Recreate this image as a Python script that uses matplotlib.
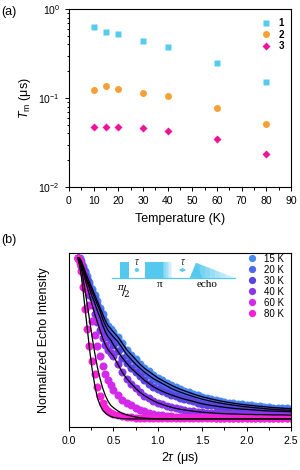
import matplotlib
matplotlib.use("Agg")
import matplotlib.pyplot as plt
from matplotlib.patches import Rectangle, Polygon
from matplotlib.ticker import MultipleLocator, LogLocator, NullFormatter

plt.rcParams["font.family"] = ["Liberation Sans", "DejaVu Sans"]
plt.rcParams["mathtext.fontset"] = "custom"
plt.rcParams["mathtext.rm"] = "Liberation Sans"
plt.rcParams["mathtext.it"] = "Liberation Sans:italic"

# ---- panel (a): phase memory time vs temperature ----
temps = [10, 15, 20, 30, 40, 60, 80]
tm_1 = [0.62, 0.555, 0.52, 0.44, 0.376, 0.244, 0.151]
tm_2 = [0.122, 0.138, 0.125, 0.114, 0.104, 0.078, 0.0505]
tm_3 = [0.047, 0.047, 0.047, 0.046, 0.043, 0.0345, 0.0236]
compounds = ["1", "2", "3"]

# ---- panel (b): echo decays ----
tau = [0.10, 0.12, 0.14, 0.16, 0.18, 0.20, 0.23, 0.26, 0.29, 0.32, 0.35, 0.38, 0.41, 0.44, 0.47,
       0.50, 0.55, 0.60, 0.65, 0.70, 0.75, 0.80, 0.85, 0.90, 0.95,
       1.00, 1.05, 1.10, 1.15, 1.20, 1.25, 1.30, 1.35, 1.40, 1.45,
       1.50, 1.55, 1.60, 1.65, 1.70, 1.75, 1.80, 1.85, 1.90, 1.95,
       2.00, 2.05, 2.10, 2.15, 2.20, 2.25, 2.30, 2.35, 2.40, 2.45, 2.50]
echo_15 = [1.00, 1.00, 0.98, 0.95, 0.92, 0.89, 0.85, 0.81, 0.77, 0.73, 0.69, 0.65, 0.61, 0.58, 0.56,
           0.54, 0.51, 0.47, 0.43, 0.40, 0.37, 0.34, 0.315, 0.295, 0.275,
           0.255, 0.24, 0.225, 0.21, 0.197, 0.185, 0.175, 0.165, 0.155, 0.146,
           0.138, 0.131, 0.124, 0.118, 0.112, 0.107, 0.102, 0.098, 0.094, 0.090,
           0.087, 0.084, 0.081, 0.078, 0.076, 0.073, 0.071, 0.069, 0.067, 0.065, 0.064]
echo_20 = [1.00, 0.99, 0.97, 0.94, 0.91, 0.87, 0.83, 0.79, 0.75, 0.71, 0.67, 0.62, 0.58, 0.55, 0.53,
           0.51, 0.48, 0.44, 0.40, 0.37, 0.34, 0.315, 0.29, 0.27, 0.25,
           0.235, 0.22, 0.205, 0.19, 0.178, 0.167, 0.157, 0.148, 0.139, 0.131,
           0.123, 0.116, 0.110, 0.104, 0.099, 0.094, 0.090, 0.086, 0.082, 0.078,
           0.075, 0.072, 0.069, 0.067, 0.064, 0.062, 0.060, 0.058, 0.056, 0.055, 0.054]
echo_30 = [1.00, 0.99, 0.96, 0.93, 0.89, 0.86, 0.81, 0.76, 0.72, 0.67, 0.63, 0.58, 0.54, 0.51, 0.49,
           0.46, 0.42, 0.38, 0.345, 0.315, 0.29, 0.265, 0.24, 0.22, 0.20,
           0.185, 0.172, 0.160, 0.150, 0.140, 0.131, 0.123, 0.116, 0.109, 0.101,
           0.094, 0.089, 0.084, 0.080, 0.076, 0.072, 0.069, 0.066, 0.063, 0.061,
           0.059, 0.057, 0.055, 0.053, 0.051, 0.050, 0.049, 0.048, 0.047, 0.046, 0.045]
echo_40 = [1.00, 0.98, 0.95, 0.91, 0.87, 0.83, 0.77, 0.71, 0.65, 0.60, 0.55, 0.50, 0.46, 0.43, 0.41,
           0.39, 0.34, 0.29, 0.25, 0.22, 0.19, 0.165, 0.145, 0.128, 0.113,
           0.100, 0.090, 0.081, 0.073, 0.066, 0.060, 0.056, 0.052, 0.048, 0.045,
           0.042, 0.040, 0.038, 0.036, 0.034, 0.033, 0.032, 0.031, 0.030, 0.029,
           0.028, 0.028, 0.027, 0.027, 0.026, 0.026, 0.025, 0.025, 0.025, 0.024, 0.024]
echo_60 = [1.00, 0.98, 0.95, 0.91, 0.86, 0.80, 0.71, 0.61, 0.52, 0.45, 0.39, 0.33, 0.28, 0.24, 0.21,
           0.18, 0.15, 0.12, 0.10, 0.085, 0.07, 0.058, 0.048, 0.040, 0.033,
           0.027, 0.023, 0.020, 0.017, 0.015, 0.013, 0.012, 0.011, 0.010, 0.010,
           0.009, 0.009, 0.009, 0.008, 0.008, 0.008, 0.008, 0.008, 0.008, 0.008,
           0.008, 0.008, 0.008, 0.008, 0.008, 0.008, 0.008, 0.008, 0.008, 0.008, 0.008]
echo_80 = [1.00, 0.97, 0.92, 0.82, 0.68, 0.56, 0.45, 0.36, 0.28, 0.20, 0.14, 0.10, 0.07, 0.05, 0.04,
           0.030, 0.022, 0.017, 0.013, 0.010, 0.008, 0.007, 0.006, 0.006, 0.005,
           0.005, 0.005, 0.005, 0.005, 0.005, 0.005, 0.005, 0.005, 0.005, 0.005,
           0.005, 0.005, 0.005, 0.005, 0.005, 0.005, 0.005, 0.005, 0.005, 0.005,
           0.005, 0.005, 0.005, 0.005, 0.005, 0.005, 0.005, 0.005, 0.005, 0.005, 0.005]
# fitted curves for the two fastest decays
tau_fit = [0.10, 0.12, 0.14, 0.16, 0.18, 0.20, 0.23, 0.26, 0.29, 0.32, 0.35, 0.38, 0.41, 0.44, 0.47,
           0.50, 0.55, 0.60, 0.65, 0.70, 0.75, 0.80, 0.85, 0.90, 0.95, 1.00, 2.50]
fit_60 = [1.00, 0.97, 0.93, 0.87, 0.80, 0.73, 0.62, 0.51, 0.41, 0.32, 0.25, 0.19, 0.145, 0.11, 0.085,
          0.070, 0.050, 0.035, 0.025, 0.018, 0.012, 0.008, 0.005, 0.003, 0.002, 0.001, 0.0]
fit_80 = [1.00, 0.95, 0.88, 0.79, 0.69, 0.59, 0.44, 0.31, 0.21, 0.13, 0.085, 0.055, 0.036, 0.024, 0.016,
          0.010, 0.005, 0.002, 0.001, 0.0, 0.0, 0.0, 0.0, 0.0, 0.0, 0.0, 0.0]
temp_labels = ["15 K", "20 K", "30 K", "40 K", "60 K", "80 K"]
temp_colors = ["#4a8af0", "#4f66ee", "#5a45e0", "#8a36ea", "#d22ae8", "#f522d8"]

fig = plt.figure(figsize=(3.0, 4.7), dpi=100)

# ---------------- (a) ----------------
ax = fig.add_axes([0.23, 0.602, 0.74, 0.379])
ax.plot(temps, tm_1, "s", color="#55ccee", ms=4.5, mec="none", label=compounds[0])
ax.plot(temps, tm_2, "o", color="#f7a035", ms=5.0, mec="none", label=compounds[1])
ax.plot(temps, tm_3, "D", color="#ee1199", ms=4.5, mec="none", label=compounds[2])
ax.set_yscale("log")
ax.set_xlim(0, 90)
ax.set_ylim(0.01, 1)
ax.xaxis.set_major_locator(MultipleLocator(10))
ax.xaxis.set_minor_locator(MultipleLocator(5))
ax.yaxis.set_major_locator(LogLocator(base=10, numticks=5))
ax.yaxis.set_minor_locator(LogLocator(base=10, subs=range(2, 10), numticks=20))
ax.yaxis.set_minor_formatter(NullFormatter())
ax.tick_params(which="both", direction="out", top=False, right=False, labelsize=7.5, width=0.7)
ax.tick_params(which="major", length=3)
ax.tick_params(which="minor", length=1.8)
ax.set_xlabel("Temperature (K)", fontsize=9, labelpad=5)
ax.set_ylabel(r"$T_\mathrm{m}$ ($\mathrm{\mu}$s)", fontsize=9, labelpad=4)
for s in ax.spines.values():
    s.set_linewidth(0.8)
ax.legend(loc="upper right", bbox_to_anchor=(1.0, 0.985), frameon=False,
          handlelength=0.8, handletextpad=0.9, labelspacing=0.15,
          borderaxespad=0.3, prop={"weight": "bold", "size": 7})
fig.text(0.003, 0.975, "(a)", fontsize=9, va="center")

# ---------------- (b) ----------------
bx = fig.add_axes([0.23, 0.0915, 0.74, 0.370])
series = [echo_15, echo_20, echo_30, echo_40, echo_60, echo_80]
for vals, lab, col in zip(series, temp_labels, temp_colors):
    bx.plot(tau, vals, "o", color=col, ms=5.8, mec="none", label=lab, zorder=2)
for vals in [echo_15, echo_20, echo_30, echo_40]:
    bx.plot(tau, vals, "-", color="black", lw=0.9, zorder=3)
bx.plot(tau_fit, fit_60, "-", color="black", lw=0.9, zorder=3)
bx.plot(tau_fit, fit_80, "-", color="black", lw=0.9, zorder=3)
bx.set_xlim(0, 2.5)
bx.set_ylim(-0.05, 1.03)
bx.xaxis.set_major_locator(MultipleLocator(0.5))
bx.xaxis.set_minor_locator(MultipleLocator(0.25))
bx.set_yticks([])
bx.tick_params(which="both", direction="out", top=False, right=False, labelsize=7.5, width=0.7)
bx.tick_params(which="major", length=3)
bx.tick_params(which="minor", length=1.8)
bx.set_xlabel(r"2$\tau$ ($\mathrm{\mu}$s)", fontsize=9, labelpad=3)
bx.set_ylabel("Normalized Echo Intensity", fontsize=9, labelpad=14)
for s in bx.spines.values():
    s.set_linewidth(0.8)
bx.legend(loc="upper right", bbox_to_anchor=(1.0, 1.035), frameon=False, fontsize=7,
          handlelength=0.6, handletextpad=0.9, labelspacing=0.1, borderaxespad=0.3,
          markerscale=0.9)
fig.text(0.003, 0.49, "(b)", fontsize=9, va="center")

# pulse sequence sketch
pc = "#55c8ee"
bx.plot([0.48, 1.87], [0.876, 0.876], color=pc, lw=0.9, zorder=4)
bx.add_patch(Rectangle((0.574, 0.876), 0.10, 0.10, color=pc, lw=0, zorder=4))
bx.add_patch(Rectangle((0.856, 0.876), 0.20, 0.10, color=pc, lw=0, zorder=4))
for i in range(6):
    bx.add_patch(Rectangle((1.056 + i * 0.018, 0.876), 0.018, 0.10, color=pc,
                           alpha=0.8 - i * 0.13, lw=0, zorder=4))
for x0, x1 in [(0.70, 0.83), (1.205, 1.35)]:
    bx.annotate("", xy=(x0, 0.925), xytext=(x1, 0.925),
                arrowprops=dict(arrowstyle="<->", color=pc, lw=0.8, mutation_scale=5), zorder=4)
bx.add_patch(Polygon([(1.36, 0.876), (1.43, 0.97), (1.50, 0.876)], closed=True, color=pc, lw=0, zorder=4))
for i in range(8):
    xa = 1.43 + i * 0.055
    xb = xa + 0.055
    ya = 0.97 - (0.094 * i / 8)
    yb = 0.97 - (0.094 * (i + 1) / 8)
    bx.add_patch(Polygon([(xa, 0.876), (xa, ya), (xb, yb), (xb, 0.876)], closed=True, color=pc,
                         alpha=0.9 - i * 0.1, lw=0, zorder=4))
sfont = {"family": ["Liberation Serif", "DejaVu Serif"], "fontsize": 8}
bx.text(0.765, 0.945, r"$\tau$", ha="center", va="bottom", color="#333333", fontsize=7)
bx.text(1.28, 0.945, r"$\tau$", ha="center", va="bottom", color="#333333", fontsize=7)
bx.text(0.62, 0.79, r"$^{\pi}\!/\!_{2}$", ha="center", va="center", fontsize=9,
        math_fontfamily="dejavuserif")
bx.text(1.025, 0.835, "\u03c0", ha="center", va="center", **sfont)
bx.text(1.55, 0.835, "echo", ha="center", va="center", **sfont)

fig.savefig("out.png", dpi=100)
